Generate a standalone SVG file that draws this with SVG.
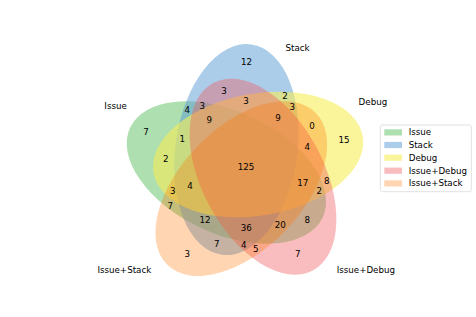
<svg xmlns="http://www.w3.org/2000/svg" width="476" height="317" viewBox="0 0 476 317">
<style>
text{font-family:"DejaVu Sans","Liberation Sans",sans-serif;font-size:8.7px;fill:#000}
.n{text-anchor:middle;dominant-baseline:central}
</style>
<rect width="476" height="317" fill="#fff"/>
<g id="sets">
<g id="issue"><ellipse cx="226.4" cy="172.5" rx="106.2" ry="61" transform="rotate(-155 226.4 172.5)" fill="rgb(92,192,98)" fill-opacity="0.5"/></g>
<g id="stack"><ellipse cx="236.4" cy="149.6" rx="106.2" ry="61" transform="rotate(-82 236.4 149.6)" fill="rgb(90,155,212)" fill-opacity="0.5"/></g>
<g id="debug"><ellipse cx="258.1" cy="154.5" rx="106.2" ry="61" transform="rotate(-10 258.1 154.5)" fill="rgb(246,236,86)" fill-opacity="0.6"/></g>
<g id="issue-debug"><ellipse cx="263.0" cy="176.7" rx="106.2" ry="61" transform="rotate(-118 263.0 176.7)" fill="rgb(241,90,96)" fill-opacity="0.4"/></g>
<g id="issue-stack"><ellipse cx="241.3" cy="188.6" rx="106.2" ry="61" transform="rotate(-46 241.3 188.6)" fill="rgb(255,117,0)" fill-opacity="0.3"/></g>
</g>
<g id="names">
<text x="126.8" y="106.4" text-anchor="end" dominant-baseline="central">Issue</text>
<text x="297.6" y="47.5" text-anchor="middle" dominant-baseline="central">Stack</text>
<text x="358.6" y="101.6" dominant-baseline="central">Debug</text>
<text x="336.7" y="269.9" dominant-baseline="central">Issue+Debug</text>
<text x="151.2" y="269.9" text-anchor="end" dominant-baseline="central">Issue+Stack</text>
</g>
<g id="counts">
<text class="n" x="246.5" y="61.7">12</text>
<text class="n" x="224" y="90.7">3</text>
<text class="n" x="246" y="100.7">3</text>
<text class="n" x="285" y="95.7">2</text>
<text class="n" x="187.3" y="110">4</text>
<text class="n" x="202.3" y="105.7">3</text>
<text class="n" x="209.3" y="120">9</text>
<text class="n" x="278" y="117.6">9</text>
<text class="n" x="146" y="132.3">7</text>
<text class="n" x="182.3" y="139.3">1</text>
<text class="n" x="292.3" y="107.3">3</text>
<text class="n" x="312" y="125.7">0</text>
<text class="n" x="344" y="140">15</text>
<text class="n" x="307.2" y="147">4</text>
<text class="n" x="165.7" y="159.3">2</text>
<text class="n" x="246" y="166.7">125</text>
<text class="n" x="172.7" y="190.7">3</text>
<text class="n" x="190" y="186">4</text>
<text class="n" x="170.3" y="205.7">7</text>
<text class="n" x="205" y="220">12</text>
<text class="n" x="246.2" y="227.7">36</text>
<text class="n" x="216.7" y="244.3">7</text>
<text class="n" x="243.7" y="245">4</text>
<text class="n" x="255.7" y="249.3">5</text>
<text class="n" x="187.3" y="254.3">3</text>
<text class="n" x="302.7" y="183.3">17</text>
<text class="n" x="326.7" y="181.3">8</text>
<text class="n" x="319.3" y="190.7">2</text>
<text class="n" x="280.3" y="225.3">20</text>
<text class="n" x="307.3" y="220.3">8</text>
<text class="n" x="297.7" y="254.3">7</text>
</g>
<g id="legend">
<rect x="380.3" y="125" width="91" height="66.7" rx="2" fill="#fff" fill-opacity="0.8" stroke="#d9d9d9" stroke-width="0.8"/>
<rect x="384.3" y="129.3" width="17.7" height="6.2" fill="rgb(92,192,98)" fill-opacity="0.5"/>
<rect x="384.3" y="141.9" width="17.7" height="6.2" fill="rgb(90,155,212)" fill-opacity="0.5"/>
<rect x="384.3" y="154.6" width="17.7" height="6.2" fill="rgb(246,236,86)" fill-opacity="0.6"/>
<rect x="384.3" y="167.6" width="17.7" height="6.2" fill="rgb(241,90,96)" fill-opacity="0.4"/>
<rect x="384.3" y="180.3" width="17.7" height="6.2" fill="rgb(255,117,0)" fill-opacity="0.3"/>
<text x="408.7" y="132.4" dominant-baseline="central">Issue</text>
<text x="408.7" y="145" dominant-baseline="central">Stack</text>
<text x="408.7" y="157.7" dominant-baseline="central">Debug</text>
<text x="408.7" y="170.7" dominant-baseline="central">Issue+Debug</text>
<text x="408.7" y="183.4" dominant-baseline="central">Issue+Stack</text>
</g>
</svg>
